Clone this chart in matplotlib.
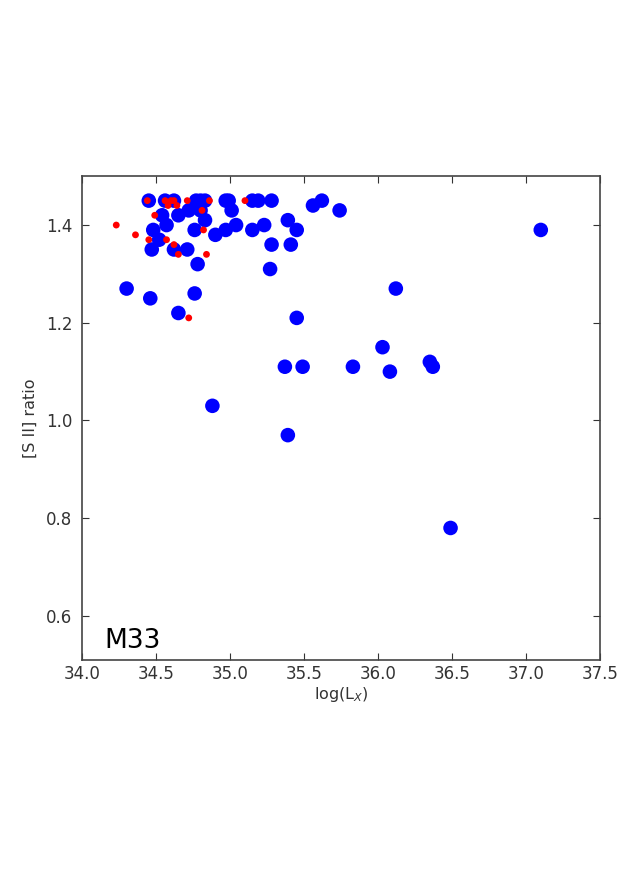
import matplotlib
matplotlib.use("Agg")
import matplotlib.pyplot as plt

# blue: all SNRs, red: optical subsample
blue_x = [34.45, 34.56, 34.62, 34.77, 34.80, 34.83, 34.97, 34.99, 35.15, 35.19,
          35.28, 35.56, 35.62, 35.74, 34.54, 34.65, 34.72, 34.80, 34.83, 35.01,
          34.48, 34.57, 34.52, 34.47, 34.62, 34.71, 34.76, 34.78, 34.90, 34.97,
          35.04, 35.15, 35.23, 35.39, 35.45, 35.28, 35.41, 35.27, 34.30, 34.46,
          34.76, 34.65, 35.45, 36.12, 36.03, 35.37, 35.49, 35.83, 36.08, 36.35,
          36.37, 34.88, 35.39, 36.49, 37.10]
blue_y = [1.45, 1.45, 1.45, 1.45, 1.45, 1.45, 1.45, 1.45, 1.45, 1.45,
          1.45, 1.44, 1.45, 1.43, 1.42, 1.42, 1.43, 1.43, 1.41, 1.43,
          1.39, 1.40, 1.37, 1.35, 1.35, 1.35, 1.39, 1.32, 1.38, 1.39,
          1.40, 1.39, 1.40, 1.41, 1.39, 1.36, 1.36, 1.31, 1.27, 1.25,
          1.26, 1.22, 1.21, 1.27, 1.15, 1.11, 1.11, 1.11, 1.10, 1.12,
          1.11, 1.03, 0.97, 0.78, 1.39]

red_x = [34.23, 34.36, 34.49, 34.45, 34.44, 34.56, 34.58, 34.62, 34.64, 34.57,
         34.62, 34.65, 34.71, 34.86, 34.81, 34.82, 34.84, 34.72, 35.10, 34.60]
red_y = [1.40, 1.38, 1.42, 1.37, 1.45, 1.45, 1.44, 1.45, 1.44, 1.37,
         1.36, 1.34, 1.45, 1.45, 1.43, 1.39, 1.34, 1.21, 1.45, 1.45]

fig = plt.figure(figsize=(6.23, 8.81), dpi=100)
ax = fig.add_axes([0.132, 0.251, 0.831, 0.549])

ax.scatter(blue_x, blue_y, s=110, c="blue", edgecolors="none", zorder=2)
ax.scatter(red_x, red_y, s=24, c="red", edgecolors="none", zorder=3)

ax.set_xlim(34.0, 37.5)
ax.set_ylim(0.51, 1.5)
ax.set_xticks([34.0, 34.5, 35.0, 35.5, 36.0, 36.5, 37.0, 37.5])
ax.set_yticks([0.6, 0.8, 1.0, 1.2, 1.4])
ax.ticklabel_format(useOffset=False)
ax.tick_params(direction="in", top=True, right=True, length=5,
               labelsize=12, colors="#333333")
ax.tick_params(axis="y", pad=7)
ax.tick_params(axis="x", pad=4)
for sp in ax.spines.values():
    sp.set_color("#444444")
    sp.set_linewidth(1.2)

ax.set_xlabel(r"log(L$_X$)", fontsize=11.5, color="#333333", labelpad=1)
ax.set_ylabel("[S II] ratio", fontsize=11.5, color="#333333", labelpad=6)
ax.text(34.15, 0.535, "M33", fontsize=19, color="black")

fig.savefig("out.png", dpi=100)
